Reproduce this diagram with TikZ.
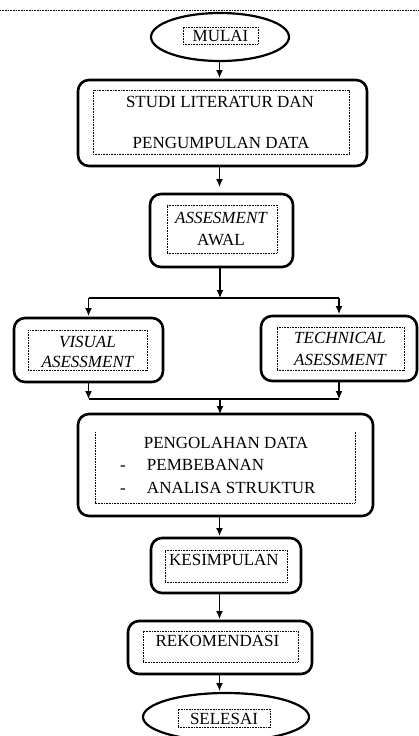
\documentclass[tikz,border=0pt]{standalone}
\usepackage{fontspec}
\setmainfont{Liberation Serif}
\usetikzlibrary{shapes.geometric,arrows.meta}
\begin{document}
\begin{tikzpicture}[x=1pt,y=-1pt,
  obox/.style={draw, line width=2.6pt, rounded corners=11pt, inner sep=0pt, outer sep=0pt},
  oell/.style={draw, ellipse, line width=2.2pt, inner sep=0pt, outer sep=0pt},
  dbox/.style={draw, line width=0.7pt, dash pattern=on 0.9pt off 0.7pt, inner sep=0pt, outer sep=0pt},
  dline/.style={line width=0.7pt, dash pattern=on 0.9pt off 0.7pt},
  txt/.style={font=\fontsize{17}{20}\selectfont, inner sep=0pt, outer sep=0pt},
  itxt/.style={txt, font=\fontsize{17}{20}\selectfont\itshape},
  arr/.style={line width=1.2pt, -{Latex[length=8pt,width=7pt]}, shorten >=2pt},
  con/.style={line width=1.2pt}]
\useasboundingbox (0,0) rectangle (419,736);
\clip (0,0) rectangle (419,736);

% top dotted rule
\draw[dline] (0,10) -- (419,10);

% MULAI
\node[oell, minimum width=138pt, minimum height=48pt] (mulai) at (220,37) {};
\node[dbox, minimum width=75pt, minimum height=17pt] (mulaiin) at (220.5,35.5) {};
\node[txt] (mulait) at (220.5,36) {MULAI};

% STUDI LITERATUR
\node[obox, minimum width=289pt, minimum height=86pt] (studi) at (222.5,123) {};
\node[dbox, minimum width=256pt, minimum height=64pt] (studiin) at (221,122) {};
\node[txt] (studit1) at (220,102) {STUDI LITERATUR DAN};
\node[txt] (studit2) at (221,143) {PENGUMPULAN DATA};

% ASSESMENT AWAL
\node[obox, minimum width=143pt, minimum height=73pt] (awal) at (221.5,230.5) {};
\node[dbox, minimum width=110pt, minimum height=48pt] (awalin) at (222,229) {};
\node[itxt] (awalt1) at (221,218) {ASSESMENT};
\node[txt] (awalt2) at (221,240) {AWAL};

% VISUAL
\node[obox, minimum width=149pt, minimum height=64pt] (visual) at (88.5,350) {};
\node[dbox, minimum width=119pt, minimum height=40pt] (visualin) at (87.5,350) {};
\node[itxt] (visualt1) at (87.5,342) {VISUAL};
\node[itxt] (visualt2) at (87.5,362) {ASESSMENT};

% TECHNICAL
\node[obox, minimum width=156pt, minimum height=65pt] (tech) at (339,348.5) {};
\node[dbox, minimum width=127pt, minimum height=43pt] (techin) at (340.5,348.5) {};
\node[itxt] (techt1) at (340,338) {TECHNICAL};
\node[itxt] (techt2) at (340,360) {ASESSMENT};

% PENGOLAHAN DATA
\node[obox, minimum width=295pt, minimum height=102pt] (peng) at (225.5,465) {};
\node[inner sep=0pt, outer sep=0pt, minimum width=260pt, minimum height=71pt] (pengin) at (225,467.5) {};
\draw[dline] (pengin.north west) -- (pengin.south west) -- (pengin.south east) -- (pengin.north east);
\node[txt] (pengt1) at (226,443) {PENGOLAHAN DATA};
\node[txt, anchor=west] (pengt2) at (120,465) {\makebox[27pt][l]{-}PEMBEBANAN};
\node[txt, anchor=west] (pengt3) at (120,488) {\makebox[27pt][l]{-}ANALISA STRUKTUR};

% KESIMPULAN
\node[obox, minimum width=150pt, minimum height=55pt] (kes) at (226,565.5) {};
\node[dbox, minimum width=122pt, minimum height=32pt] (kesin) at (226,566) {};
\node[txt] (kest) at (224,560) {KESIMPULAN};

% REKOMENDASI
\node[obox, minimum width=184pt, minimum height=53pt] (rek) at (220,647.5) {};
\node[dbox, minimum width=155pt, minimum height=31pt] (rekin) at (220.5,646.5) {};
\node[txt] (rekt) at (217.5,641) {REKOMENDASI};

% SELESAI
\node[oell, minimum width=166pt, minimum height=48pt] (sel) at (226,717) {};
\node[dbox, minimum width=92pt, minimum height=18pt] (selin) at (224,718) {};
\node[txt] (selt) at (224,718.5) {SELESAI};

% axis and junctions
\coordinate (axis) at (219.5,0);
\coordinate (split) at (220,298);
\coordinate (merge) at (220,399);

% connectors
\draw[arr] (axis |- mulai.south) -- (axis |- studi.north);
\draw[arr, shorten >=7pt] (axis |- studi.south) -- (axis |- awal.north);
\draw[arr, shorten >=0pt] (split |- awal.south) -- (split);
\draw[con] (visual.north |- split) -- (tech.north |- split);
\draw[arr] (visual.north |- split) -- (visual.north);
\draw[arr] (tech.north |- split) -- (tech.north);
\draw[arr, shorten >=0pt] (visual.south) -- (visual.south |- merge);
\draw[arr, shorten >=0pt] (tech.south) -- (tech.south |- merge);
\draw[con] (visual.south |- merge) -- (tech.south |- merge);
\draw[arr, shorten >=0pt] (merge) -- (merge |- peng.north);
\draw[arr] (axis |- peng.south) -- (axis |- kes.north);
\draw[arr] (axis |- kes.south) -- (axis |- rek.north);
\draw[arr] (axis |- rek.south) -- (axis |- sel.north);
\end{tikzpicture}
\end{document}
